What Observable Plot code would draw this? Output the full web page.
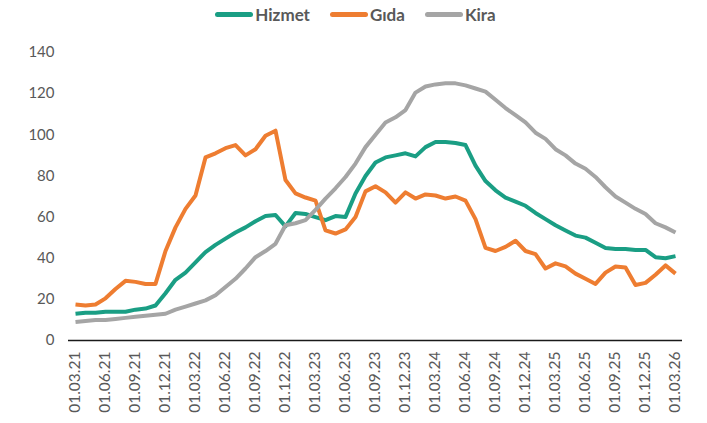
<!DOCTYPE html>
<html>
<head>
<meta charset="utf-8">
<script src="https://cdn.jsdelivr.net/npm/d3@7"></script>
<script src="https://cdn.jsdelivr.net/npm/@observablehq/plot@0.6"></script>
<style>
  body { margin: 0; background: #fff; }
  #legend { height: 28px; display: flex; justify-content: center; align-items: center; gap: 20px;
    font-family: Lato, "Open Sans", sans-serif; font-weight: bold; font-size: 17px; color: #595959; padding-left: 4px; }
  .item { display: flex; align-items: center; }
  .sw { display: inline-block; width: 38px; height: 5px; border-radius: 3px; margin-right: 2px; }
</style>
</head>
<body>
<div id="legend"></div>
<div id="chart"></div>
<script>
const series = ["Hizmet", "Gıda", "Kira"];
const colors = ["#1A9E84", "#EE7D31", "#A5A5A5"];

const months = d3.utcMonth.range(new Date(Date.UTC(2021, 2, 1)), new Date(Date.UTC(2026, 3, 1)))
  .map(d3.utcFormat("%d.%m.%y"));

const xTickLabels = ["01.03.21","01.06.21","01.09.21","01.12.21","01.03.22","01.06.22","01.09.22","01.12.22",
  "01.03.23","01.06.23","01.09.23","01.12.23","01.03.24","01.06.24","01.09.24","01.12.24",
  "01.03.25","01.06.25","01.09.25","01.12.25","01.03.26"];
const yTicks = [0, 20, 40, 60, 80, 100, 120, 140];

const hizmet = [13, 13.5, 13.5, 14, 14, 14, 15, 15.5, 17, 23, 29.5, 33, 38, 43, 46.5, 49.5, 52.5, 55, 58, 60.5,
  61, 55.5, 62, 61.5, 60, 58.5, 60.5, 60, 71.5, 80, 86.5, 89, 90, 91, 89.5, 94, 96.5, 96.5, 96, 95,
  85, 77.5, 73, 69.5, 67.5, 65.5, 62, 59, 56, 53.5, 51, 50, 47.5, 45, 44.5, 44.5, 44, 44, 40.5, 40, 41];
const gida = [17.5, 17, 17.5, 20.5, 25, 29, 28.5, 27.5, 27.5, 43.5, 55, 64, 70.5, 89, 91, 93.5, 95, 90, 93, 99.5,
  102, 78, 71.5, 69.5, 68, 53.5, 52, 54, 60, 72.5, 75, 72, 67, 72, 69, 71, 70.5, 69, 70, 68,
  59, 45, 43.5, 45.5, 48.5, 43.5, 42, 35, 37.5, 36, 32.5, 30, 27.5, 33, 36, 35.5, 27, 28, 32, 36.5, 32.5];
const kira = [9, 9.5, 10, 10, 10.5, 11, 11.5, 12, 12.5, 13, 15, 16.5, 18, 19.5, 22, 26, 30, 35, 40.5, 43.5,
  47, 56, 57, 58.5, 63.5, 69, 74, 79.5, 86, 94, 100, 106, 108.5, 112, 120.5, 123.5, 124.5, 125, 125, 124,
  122.5, 121, 117, 113, 109.5, 106, 101, 98, 93, 90, 86, 83.5, 79.5, 74.5, 70, 67, 64, 61.5, 57, 55, 52.5];

const valuesBySeries = [hizmet, gida, kira];
const rows = [];
series.forEach((s, k) => valuesBySeries[k].forEach((v, i) => rows.push({series: s, month: months[i], value: v})));

// legend
const legend = document.getElementById("legend");
series.forEach((s, k) => {
  const it = document.createElement("div");
  it.className = "item";
  it.innerHTML = `<span class="sw" style="background:${colors[k]}"></span><span>${s}</span>`;
  legend.appendChild(it);
});

const chart = Plot.plot({
  width: 707,
  height: 395,
  marginLeft: 68,
  marginRight: 25,
  marginTop: 24,
  marginBottom: 83,
  style: {fontFamily: "Lato, 'Open Sans', sans-serif", color: "#595959", background: "#fff", overflow: "visible"},
  x: {type: "point", domain: months, padding: 0.5},
  y: {domain: [0, 140]},
  color: {domain: series, range: colors},
  marks: [
    Plot.axisY({ticks: yTicks, tickSize: 0, tickPadding: 14, fontSize: 15, label: null}),
    Plot.axisX({ticks: xTickLabels, tickSize: 0, tickRotate: -90, tickPadding: 11, fontSize: 15.5, label: null}),
    Plot.ruleY([0], {stroke: "#1a1a1a", strokeWidth: 1.5}),
    Plot.line(rows, {x: "month", y: "value", z: "series", stroke: "series", strokeWidth: 4, strokeLinejoin: "round", strokeLinecap: "butt"})
  ]
});
document.getElementById("chart").appendChild(chart);
</script>
</body>
</html>
